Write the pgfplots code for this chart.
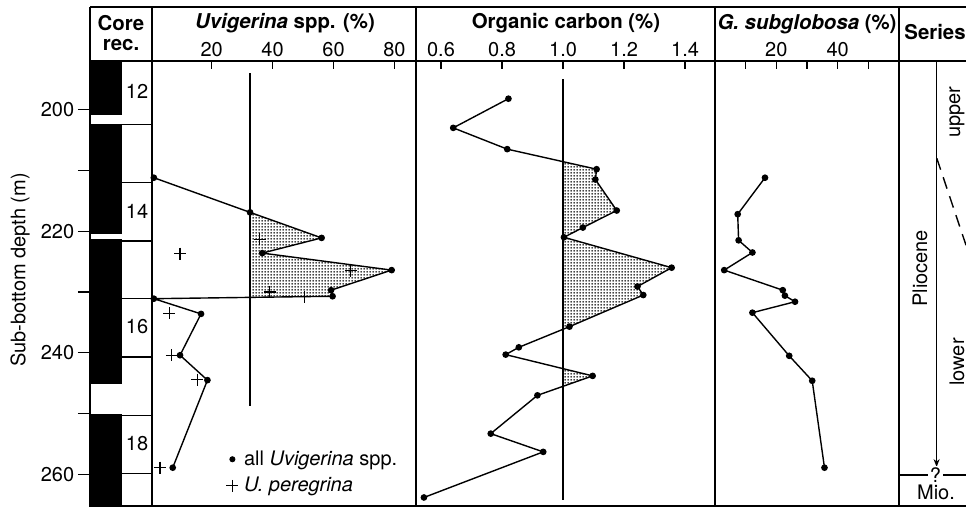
\documentclass[border=0pt]{standalone}
\usepackage{fontspec}
\setmainfont{TeX Gyre Heros}
\usepackage{pgfplots}
\pgfplotsset{compat=1.18}
\usetikzlibrary{patterns,arrows.meta}
\pgfdeclarepatternformonly{finedots}{\pgfpointorigin}{\pgfpoint{1.5pt}{1.5pt}}{\pgfpoint{1.5pt}{1.5pt}}{\pgfpathcircle{\pgfpoint{0.75pt}{0.75pt}}{0.58pt}\pgfusepath{fill}}
\newcommand{\fs}{\fontsize{10}{12}\selectfont}
\newcommand{\fh}{\fontsize{10.2}{12}\selectfont}
\pgfplotsset{
  panel/.style={
    scale only axis, anchor=north west, height=222.5pt,
    y dir=reverse, ymin=192, ymax=265.2,
    ytick=\empty,
    axis line style={line width=0.9pt},
    every tick/.style={line width=0.7pt, black},
    xtick pos=right, xticklabel pos=right, tick align=inside,
    major tick length=4pt,
    xticklabel style={font=\fs, yshift=-1.5pt},
    /pgf/number format/assume math mode=true,
  },
  dat/.style={black, line width=0.7pt, mark=*, mark size=1.3pt},
}
\begin{document}
\begin{tikzpicture}
\path[use as bounding box] (0pt,0pt) rectangle (483pt,253.5pt);
% header frame
\draw[line width=0.9pt] (45pt,250pt) -- (483pt,250pt);
\foreach \xx in {45,76,208,357.5,449.5} {\draw[line width=0.9pt] (\xx pt,223pt) -- (\xx pt,250pt);}
\draw[line width=0.9pt] (449.5pt,223pt) -- (483pt,223pt);
\draw[line width=0.9pt] (449.5pt,0.5pt) -- (483pt,0.5pt);
\node[font=\fh\bfseries] at (60.5pt,242pt) {Core};
\node[font=\fh\bfseries] at (60.5pt,231pt) {rec.};
\node[font=\fh\bfseries] at (142.5pt,242pt) {\textit{Uvigerina} spp. (\%)};
\node[font=\fh\bfseries] at (283pt,242pt) {Organic carbon (\%)};
\node[font=\fh\bfseries] at (403.5pt,241.5pt) {\textit{G. subglobosa} (\%)};
\node[font=\fh\bfseries, anchor=west, inner sep=0pt] at (452pt,237.5pt) {Series};
\node[font=\fs, rotate=90] at (10pt,118.5pt) {Sub-bottom depth (m)};

% core column
\begin{axis}[panel, at={(45pt,223pt)}, width=31pt, xmin=0, xmax=62,
  xtick=\empty, ytick={200,210,...,260}, yticklabels={200,,220,,240,,260},
  ytick pos=left, tick align=outside, major tick length=6pt,
  yticklabel style={font=\fs, xshift=1.6pt}]
\addplot[fill=black, draw=none] coordinates {(0,192) (31.7,192) (31.7,200.9) (0,200.9)} -- cycle;
\addplot[fill=black, draw=none] coordinates {(0,202.3) (31.7,202.3) (31.7,220.4) (0,220.4)} -- cycle;
\addplot[fill=black, draw=none] coordinates {(0,221.2) (31.7,221.2) (31.7,245.1) (0,245.1)} -- cycle;
\addplot[fill=black, draw=none] coordinates {(0,250.1) (31.7,250.1) (31.7,265.2) (0,265.2)} -- cycle;
\addplot[line width=0.7pt] coordinates {(31.7,202.4) (62,202.4)};
\addplot[line width=0.7pt] coordinates {(31.7,212.0) (62,212.0)};
\addplot[line width=0.7pt] coordinates {(31.7,221.6) (62,221.6)};
\addplot[line width=0.7pt] coordinates {(31.7,231.1) (62,231.1)};
\addplot[line width=0.7pt] coordinates {(31.7,240.7) (62,240.7)};
\addplot[line width=0.7pt] coordinates {(31.7,250.3) (62,250.3)};
\addplot[line width=0.7pt] coordinates {(31.7,259.9) (62,259.9)};
\node[font=\fs] at (axis cs:47,197) {12};
\node[font=\fs] at (axis cs:47,216.8) {14};
\node[font=\fs] at (axis cs:47,235.7) {16};
\node[font=\fs] at (axis cs:47,254.9) {18};
\end{axis}

% Uvigerina
\begin{axis}[panel, at={(76pt,223pt)}, width=132pt, xmin=0.394, xmax=87.09,
  xtick={20,40,60,80}, xticklabels={20,40,60,80},
  legend style={draw=none, fill=none, at={(axis cs:24.5,259.7)}, anchor=west,
    font=\fs, inner sep=0pt, row sep=1.5pt, nodes={inner sep=1.5pt}},
  legend cell align=left,
  legend image code/.code={\path (-3pt,0pt) (4pt,0pt); \draw[#1] plot coordinates {(0pt,0pt)};}]
\addplot[pattern=finedots, pattern color=black, draw=none, forget plot] coordinates {
(32.6,216.9) (56.1,221.1) (36.6,223.6) (79.1,226.4) (59.2,229.7) (59.7,230.7) (32.6,230.9)} -- cycle;
\addplot[line width=0.9pt, forget plot] coordinates {(32.6,194) (32.6,248.8)};
\addplot[dat, forget plot] coordinates {
(1.0,211.2) (32.6,216.9) (56.1,221.1) (36.6,223.6) (79.1,226.4) (59.2,229.7) (59.7,230.7)
(1.0,231.1) (16.5,233.6) (9.6,240.4) (18.6,244.5) (7.2,258.9)};
\addplot[only marks, mark=+, mark size=3pt, line width=0.6pt, forget plot] coordinates {
(35.8,221.3) (9.6,223.7) (65.7,226.5) (39.1,230.0) (50.4,230.8) (6.1,233.5) (6.9,240.4)
(15.3,244.4) (3.0,258.9)};
\addlegendimage{only marks, mark=*, mark size=1.3pt}
\addlegendentry{all \textit{Uvigerina} spp.}
\addlegendimage{only marks, mark=+, mark size=3pt, line width=0.6pt}
\addlegendentry{\textit{U. peregrina}}
\end{axis}

% Organic carbon
\begin{axis}[panel, at={(208pt,223pt)}, width=149.5pt, xmin=0.518, xmax=1.498,
  xtick={0.6,0.8,1.0,1.2,1.4}, xticklabels={0.6,0.8,1.0,1.2,1.4}]
\addplot[pattern=finedots, pattern color=black, draw=none] coordinates {
(1.0,208.6) (1.110,209.8) (1.106,211.5) (1.176,216.6) (1.065,219.4) (1.003,221.0)
(1.356,226.0) (1.244,229.1) (1.263,230.5) (1.021,235.7) (1.0,236.1)} -- cycle;
\addplot[pattern=finedots, pattern color=black, draw=none] coordinates {
(1.0,242.6) (1.097,243.8) (1.0,245.5)} -- cycle;
\addplot[line width=0.9pt] coordinates {(1.0,195) (1.0,264.2)};
\addplot[dat] coordinates {
(0.821,198.2) (0.640,203.0) (0.817,206.5) (1.110,209.8) (1.106,211.5) (1.176,216.6)
(1.065,219.4) (1.003,221.0) (1.356,226.0) (1.244,229.1) (1.263,230.5) (1.021,235.7)
(0.855,239.1) (0.812,240.3) (1.097,243.8) (0.916,247.0) (0.763,253.3) (0.935,256.3)
(0.544,263.8)};
\end{axis}

% G. subglobosa
\begin{axis}[panel, at={(357.5pt,223pt)}, width=92pt, xmin=0, xmax=60,
  xtick={10,20,30,40,50}, xticklabels={,20,,40,}]
\addplot[dat] coordinates {
(16.3,211.2) (7.4,217.2) (7.7,221.5) (12.2,223.5) (3.0,226.4) (22.1,229.7) (22.8,230.6)
(26.1,231.6) (12.2,233.4) (24.2,240.5) (31.7,244.6) (35.7,258.9)};
\end{axis}

% Series
\begin{axis}[scale only axis, anchor=north west, at={(449.5pt,223pt)}, width=33.5pt,
  height=222.5pt, y dir=reverse, ymin=192, ymax=265.2, xmin=899, xmax=966,
  hide axis, clip=false]
\addplot[line width=0.7pt, -{Stealth[length=4pt,width=3pt]}] coordinates {(936.6,192) (936.6,258.8)};
\addplot[line width=0.7pt, dash pattern=on 6pt off 4pt] coordinates {(936.8,208.0) (966,222.3)};
\addplot[line width=0.7pt] coordinates {(899,260.1) (966,260.1)};
\node[font=\fs, fill=white, inner sep=1pt] at (axis cs:935.5,260.1) {?};
\node[font=\fs] at (axis cs:936,263.0) {Mio.};
\node[font=\fs, rotate=90] at (axis cs:920,226.1) {Pliocene};
\node[font=\fs, rotate=90] at (axis cs:957,200.4) {upper};
\node[font=\fs, rotate=90] at (axis cs:957,241.5) {lower};
\end{axis}
\end{tikzpicture}
\end{document}
